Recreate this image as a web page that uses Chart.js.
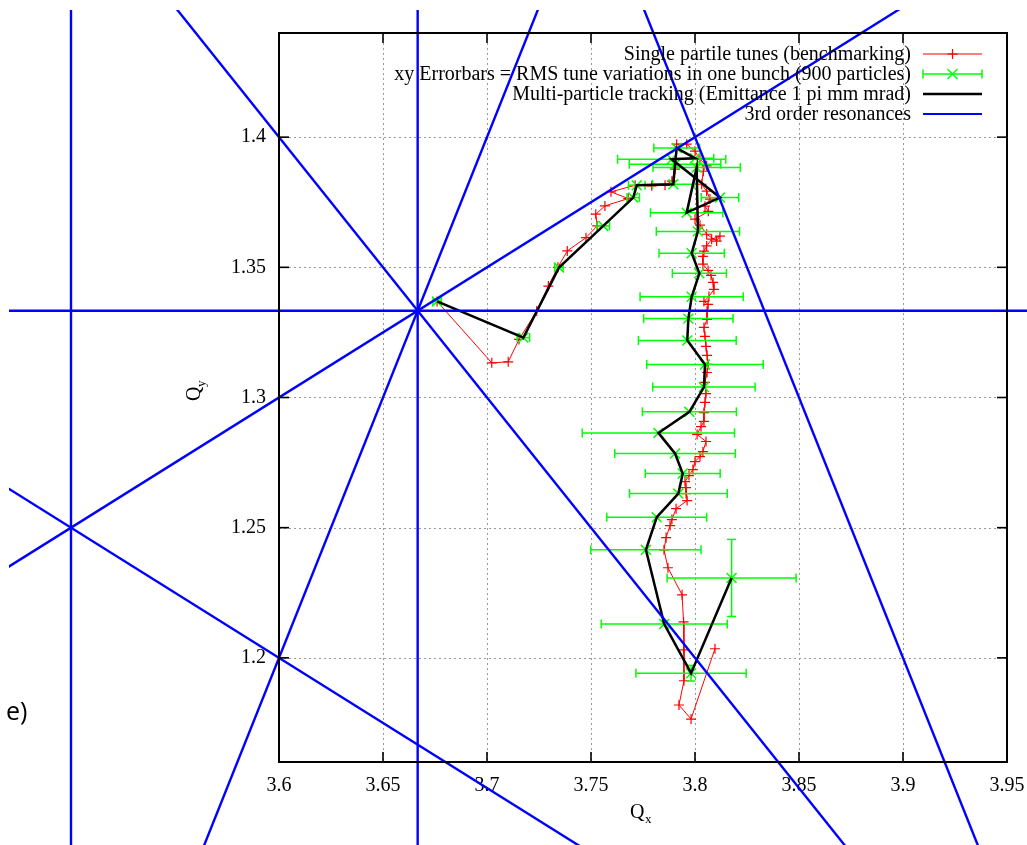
<!DOCTYPE html>
<html>
<head>
<meta charset="utf-8">
<script src="https://cdn.jsdelivr.net/npm/chart.js@4.4.1/dist/chart.umd.min.js"></script>
<style>
  html, body { margin: 0; padding: 0; background: #fff; }
  #wrap { width: 1027px; height: 845px; position: relative; }
</style>
</head>
<body>
<div id="wrap"><canvas id="c" width="1027" height="845"></canvas></div>
<script>
// Axis ticks
const xTicks = [3.6, 3.65, 3.7, 3.75, 3.8, 3.85, 3.9, 3.95];
const xTickLabels = ['3.6', '3.65', '3.7', '3.75', '3.8', '3.85', '3.9', '3.95'];
const yTicks = [1.2, 1.25, 1.3, 1.35, 1.4];
const yTickLabels = ['1.2', '1.25', '1.3', '1.35', '1.4'];

// Single particle tunes (benchmarking)
const singleQx = [
  3.6760, 3.7023, 3.7102, 3.7154, 3.7239, 3.7295, 3.7341, 3.7386, 3.7476, 3.7530,
  3.7523, 3.7567, 3.7679, 3.7596, 3.7712, 3.7792, 3.7856, 3.7889, 3.7904, 3.7912,
  3.7960, 3.8000, 3.8024, 3.8056, 3.8040, 3.8032, 3.8056, 3.8072, 3.8048, 3.8064,
  3.8000, 3.8024, 3.8056, 3.8104, 3.8120, 3.8080, 3.8056, 3.8043, 3.8038, 3.8038,
  3.8063, 3.8077, 3.8087, 3.8091, 3.8067, 3.8043, 3.8063, 3.8058, 3.8058, 3.8043,
  3.8048, 3.8053, 3.8058, 3.8063, 3.8058, 3.8048, 3.8053, 3.8048, 3.8043, 3.8043,
  3.8029, 3.8010, 3.8053, 3.8038, 3.8024, 3.8000, 3.7990, 3.7971, 3.7952, 3.7957,
  3.7957, 3.7962, 3.7909, 3.7889, 3.7880, 3.7861, 3.7851, 3.7870, 3.7938, 3.7945,
  3.7947, 3.7947, 3.7923, 3.7981, 3.8096
];
const singleQy = [
  1.3369, 1.3133, 1.3137, 1.3223, 1.3332, 1.3428, 1.3500, 1.3563, 1.3614, 1.3659,
  1.3704, 1.3736, 1.3764, 1.3790, 1.3815, 1.3813, 1.3815, 1.3831, 1.3877, 1.3973,
  1.3973, 1.3946, 1.3915, 1.3890, 1.3869, 1.3819, 1.3793, 1.3762, 1.3735, 1.3715,
  1.3685, 1.3662, 1.3627, 1.3601, 1.3620, 1.3608, 1.3582, 1.3562, 1.3542, 1.3512,
  1.3488, 1.3469, 1.3442, 1.3415, 1.3388, 1.3369, 1.3358, 1.3331, 1.3300, 1.3269,
  1.3235, 1.3196, 1.3162, 1.3127, 1.3096, 1.3058, 1.3015, 1.2981, 1.2942, 1.2908,
  1.2888, 1.2858, 1.2831, 1.2792, 1.2773, 1.2754, 1.2723, 1.2700, 1.2677, 1.2654,
  1.2631, 1.2604, 1.2573, 1.2531, 1.2508, 1.2462, 1.2415, 1.2346, 1.2242, 1.2138,
  1.2031, 1.1912, 1.1819, 1.1765, 1.2035
];

// Multi-particle tracking: bunch centre tunes and RMS spread
const trackQx = [
  3.6760, 3.7175, 3.7346, 3.7559, 3.7703, 3.7720, 3.7896, 3.7904, 3.7912, 3.8000,
  3.7888, 3.8120, 3.7960, 3.8008, 3.8014, 3.7984, 3.8021, 3.7984, 3.7968, 3.7963,
  3.8048, 3.8043, 3.7973, 3.7824, 3.7904, 3.7941, 3.7920, 3.7816, 3.7764, 3.7852,
  3.7981, 3.8176
];
const trackQy = [
  1.3369, 1.3230, 1.3499, 1.3659, 1.3768, 1.3815, 1.3819, 1.3896, 1.3958, 1.3919,
  1.3915, 1.3768, 1.3710, 1.3883, 1.3638, 1.3554, 1.3477, 1.3387, 1.3303, 1.3219,
  1.3127, 1.3040, 1.2945, 1.2864, 1.2785, 1.2708, 1.2631, 1.2540, 1.2415, 1.2130,
  1.1941, 1.2307
];
const rmsQx = [
  0.002, 0.003, 0.002, 0.003, 0.003, 0.004, 0.010, 0.022, 0.011, 0.009,
  0.026, 0.009, 0.0174, 0.021, 0.020, 0.0157, 0.013, 0.0248, 0.0215, 0.0235,
  0.028, 0.0246, 0.0226, 0.0366, 0.029, 0.018, 0.0235, 0.024, 0.0265, 0.0303,
  0.0265, 0.031
];
const rmsQy = [
  0, 0, 0, 0, 0, 0, 0, 0, 0, 0,
  0, 0, 0, 0, 0, 0, 0, 0, 0, 0,
  0, 0, 0, 0, 0, 0, 0, 0, 0, 0,
  0.003, 0.0148
];

// Resonance lines, each as two end points [Qx, Qy]
const resonanceLines = [
  [[3.5, 1.0], [3.5, 1.6]],            // Qx = 3.5
  [[11 / 3, 1.0], [11 / 3, 1.6]],      // 3Qx = 11
  [[3.4, 4 / 3], [4.1, 4 / 3]],        // 3Qy = 4
  [[3.4, 1.2], [4.0, 1.5]],            // Qx - 2Qy = 1
  [[3.4, 1.3], [3.8, 1.1]],            // Qx + 2Qy = 6
  [[3.45, 1.55], [3.9, 1.1]],          // Qx + Qy = 5
  [[3.55, 1.1], [3.75, 1.5]],          // 2Qx - Qy = 6
  [[3.75, 1.5], [3.95, 1.1]]           // 2Qx + Qy = 9
];

const seriesLabels = [
  'Single partile tunes (benchmarking)',
  'xy Errorbars = RMS tune variations in one bunch (900 particles)',
  'Multi-particle tracking (Emittance 1 pi mm mrad)',
  '3rd order resonances'
];

const SERIF = '"Liberation Serif", "Times New Roman", serif';
const RED = '#ff0000', GREEN = '#00ff00', BLUE = '#0000ff';

Chart.defaults.font.family = SERIF;
Chart.defaults.font.size = 20;
Chart.defaults.color = '#000';

const toPoints = (xs, ys) => xs.map((v, i) => ({ x: v, y: ys[i] }));

const datasets = [
  {
    label: seriesLabels[0],
    data: toPoints(singleQx, singleQy),
    showLine: true,
    borderColor: RED,
    borderWidth: 1,
    pointStyle: 'cross',
    pointRadius: 5,
    pointBorderColor: RED,
    pointBorderWidth: 1.2,
    order: 4
  },
  {
    label: seriesLabels[1],
    data: toPoints(trackQx, trackQy),
    showLine: false,
    pointStyle: 'crossRot',
    pointRadius: 7,
    pointBorderColor: GREEN,
    pointBorderWidth: 1.5,
    order: 3
  },
  {
    label: seriesLabels[2],
    data: toPoints(trackQx, trackQy),
    showLine: true,
    borderColor: '#000000',
    borderWidth: 2.5,
    pointRadius: 0,
    order: 2
  }
];
resonanceLines.forEach((seg, k) => {
  datasets.push({
    label: k === 0 ? seriesLabels[3] : '',
    data: seg.map(p => ({ x: p[0], y: p[1] })),
    showLine: true,
    borderColor: BLUE,
    borderWidth: 2.4,
    pointRadius: 0,
    clip: { left: 270, top: 23, right: 40, bottom: 100 },
    order: 1
  });
});

function seg(ctx, x1, y1, x2, y2) {
  ctx.beginPath(); ctx.moveTo(x1, y1); ctx.lineTo(x2, y2); ctx.stroke();
}

const decorations = {
  id: 'decorations',
  beforeDatasetsDraw(chart) {
    const { ctx, chartArea: a, scales: { x, y } } = chart;
    ctx.save();
    ctx.strokeStyle = '#9a9a9a';
    ctx.lineWidth = 1;
    ctx.setLineDash([2, 3]);
    xTicks.forEach(v => {
      const p = Math.round(x.getPixelForValue(v)) + 0.5;
      if (p > a.left + 2 && p < a.right - 2) seg(ctx, p, a.top, p, a.bottom);
    });
    yTicks.forEach(v => {
      const p = Math.round(y.getPixelForValue(v)) + 0.5;
      if (p > a.top + 2 && p < a.bottom - 2) seg(ctx, a.left, p, a.right, p);
    });
    ctx.restore();
  },
  beforeDatasetDraw(chart, args) {
    if (args.index !== 1) return;
    const { ctx, scales: { x, y } } = chart;
    const cap = 4.5;
    ctx.save();
    ctx.strokeStyle = GREEN;
    ctx.lineWidth = 1.5;
    trackQx.forEach((qx, i) => {
      const qy = trackQy[i];
      const py = y.getPixelForValue(qy);
      const px = x.getPixelForValue(qx);
      if (rmsQx[i] > 0) {
        const x0 = x.getPixelForValue(qx - rmsQx[i]);
        const x1 = x.getPixelForValue(qx + rmsQx[i]);
        seg(ctx, x0, py, x1, py);
        seg(ctx, x0, py - cap, x0, py + cap);
        seg(ctx, x1, py - cap, x1, py + cap);
      }
      if (rmsQy[i] > 0) {
        const y0 = y.getPixelForValue(qy - rmsQy[i]);
        const y1 = y.getPixelForValue(qy + rmsQy[i]);
        seg(ctx, px, y0, px, y1);
        seg(ctx, px - cap, y0, px + cap, y0);
        seg(ctx, px - cap, y1, px + cap, y1);
      }
    });
    ctx.restore();
  },
  afterDatasetsDraw(chart) {
    const { ctx, chartArea: a, scales: { x, y } } = chart;
    ctx.save();
    // frame with inward tick marks on every side
    ctx.strokeStyle = '#000';
    ctx.lineWidth = 2;
    ctx.strokeRect(a.left, a.top, a.right - a.left, a.bottom - a.top);
    ctx.lineWidth = 1.6;
    const tl = 10;
    xTicks.forEach(v => {
      const p = x.getPixelForValue(v);
      seg(ctx, p, a.bottom, p, a.bottom - tl);
      seg(ctx, p, a.top, p, a.top + tl);
    });
    yTicks.forEach(v => {
      const p = y.getPixelForValue(v);
      seg(ctx, a.left, p, a.left + tl, p);
      seg(ctx, a.right, p, a.right - tl, p);
    });

    // key
    const textRight = 911, s0 = 923, s1 = 982, rowY = [54, 74, 94, 114];
    ctx.font = '20px ' + SERIF;
    ctx.fillStyle = '#000';
    ctx.textAlign = 'right';
    ctx.textBaseline = 'middle';
    seriesLabels.forEach((t, r) => ctx.fillText(t, textRight, rowY[r] + 1));
    const mid = (s0 + s1) / 2;
    // red line with plus
    ctx.strokeStyle = RED; ctx.lineWidth = 1.2;
    seg(ctx, s0, rowY[0], s1, rowY[0]);
    seg(ctx, mid - 5, rowY[0], mid + 5, rowY[0]);
    seg(ctx, mid, rowY[0] - 5, mid, rowY[0] + 5);
    // green error bar with cross
    ctx.strokeStyle = GREEN; ctx.lineWidth = 1.5;
    seg(ctx, s0, rowY[1], s1, rowY[1]);
    seg(ctx, s0, rowY[1] - 4.5, s0, rowY[1] + 4.5);
    seg(ctx, s1, rowY[1] - 4.5, s1, rowY[1] + 4.5);
    seg(ctx, mid - 5, rowY[1] - 5, mid + 5, rowY[1] + 5);
    seg(ctx, mid - 5, rowY[1] + 5, mid + 5, rowY[1] - 5);
    // black line
    ctx.strokeStyle = '#000'; ctx.lineWidth = 2.5;
    seg(ctx, s0, rowY[2], s1, rowY[2]);
    // blue line
    ctx.strokeStyle = BLUE; ctx.lineWidth = 2;
    seg(ctx, s0, rowY[3], s1, rowY[3]);

    // axis titles
    ctx.fillStyle = '#000';
    ctx.textAlign = 'left';
    ctx.textBaseline = 'alphabetic';
    ctx.font = '20px ' + SERIF;
    ctx.fillText('Q', 630, 818);
    ctx.font = '13px ' + SERIF;
    ctx.fillText('x', 645, 823);

    ctx.save();
    ctx.translate(200, 401);
    ctx.rotate(-Math.PI / 2);
    ctx.font = '20px ' + SERIF;
    ctx.fillText('Q', 0, 0);
    ctx.font = '13px ' + SERIF;
    ctx.fillText('y', 14, 5);
    ctx.restore();

    // panel tag
    ctx.font = '25px "Open Sans", "Liberation Sans", sans-serif';
    ctx.fillText('e)', 6, 720);
    ctx.restore();
  }
};

new Chart(document.getElementById('c'), {
  type: 'scatter',
  data: { datasets },
  options: {
    responsive: false,
    animation: false,
    events: [],
    layout: { padding: { left: 0, right: 20, top: 33, bottom: 0 } },
    plugins: { legend: { display: false }, tooltip: { enabled: false } },
    scales: {
      x: {
        type: 'linear',
        min: 3.6,
        max: 3.95,
        grid: { display: false, drawTicks: false },
        border: { display: false },
        afterFit: s => { s.height = 83; s.paddingLeft = 0; s.paddingRight = 0; },
        afterBuildTicks: s => { s.ticks = xTicks.map(v => ({ value: v })); },
        ticks: {
          padding: 12,
          maxRotation: 0,
          autoSkip: false,
          color: '#000',
          font: { family: SERIF, size: 20 },
          callback: (v, i) => xTickLabels[i]
        }
      },
      y: {
        type: 'linear',
        min: 1.16,
        max: 1.44,
        grid: { display: false, drawTicks: false },
        border: { display: false },
        afterFit: s => { s.width = 279; s.paddingTop = 0; s.paddingBottom = 0; },
        afterBuildTicks: s => { s.ticks = yTicks.map(v => ({ value: v })); },
        ticks: {
          padding: 13,
          autoSkip: false,
          color: '#000',
          font: { family: SERIF, size: 20 },
          callback: (v, i) => yTickLabels[i]
        }
      }
    }
  },
  plugins: [decorations]
});
</script>
</body>
</html>
